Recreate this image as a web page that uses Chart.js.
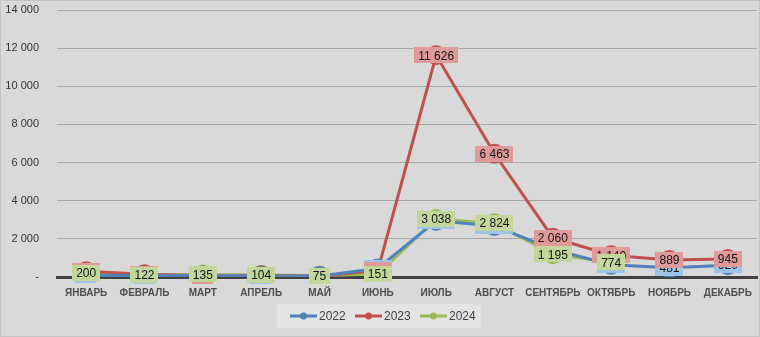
<!DOCTYPE html>
<html>
<head>
<meta charset="utf-8">
<script src="https://cdn.jsdelivr.net/npm/chart.js@4"></script>
<style>
  html, body { margin: 0; padding: 0; background: #d9d9d9; }
  #wrap { position: relative; width: 760px; height: 337px; box-sizing: border-box; border: 1px solid #c4c4c4; }
  canvas { display: block; }
</style>
</head>
<body>
<div id="wrap"><canvas id="chart" width="758" height="335"></canvas></div>
<script>
// months shown on the x axis
const months = ['ЯНВАРЬ','ФЕВРАЛЬ','МАРТ','АПРЕЛЬ','МАЙ','ИЮНЬ','ИЮЛЬ','АВГУСТ','СЕНТЯБРЬ','ОКТЯБРЬ','НОЯБРЬ','ДЕКАБРЬ'];
const years = ['2022','2023','2024'];

// values per year (2024 stops at October)
const v2022 = [90, 60, 80, 50, 50, 450, 2950, 2680, 1450, 640, 481, 620];
const v2023 = [300, 150, 60, 90, 30, 350, 11626, 6463, 2060, 1140, 889, 945];
const v2024 = [200, 122, 135, 104, 75, 151, 3038, 2824, 1195, 774, null, null];

const yTicks = [0, 2000, 4000, 6000, 8000, 10000, 12000, 14000];

const lineColors = ['#4f81bd', '#c0504d', '#9bbb59'];
const labelFills = ['#9dc3e6', '#e19a9a', '#c4d79b'];

const FONT = '"Liberation Sans", Arial, sans-serif';

function fmt(n){
  if (n === 0) return '-';
  return String(Math.round(n)).replace(/\B(?=(\d{3})+(?!\d))/g, ' ');
}

// excel-like centered value boxes, drawn after all lines
const valueLabels = {
  id: 'valueLabels',
  afterDatasetsDraw(chart){
    const ctx = chart.ctx;
    ctx.save();
    ctx.font = '12px ' + FONT;
    ctx.textAlign = 'center';
    ctx.textBaseline = 'middle';
    chart.data.datasets.forEach((ds, i) => {
      const meta = chart.getDatasetMeta(i);
      meta.data.forEach((pt, j) => {
        const v = ds.data[j];
        if (v == null) return;
        const txt = fmt(v);
        const w = ctx.measureText(txt).width + 8;
        const h = 16;
        ctx.fillStyle = labelFills[i];
        ctx.fillRect(Math.round(pt.x - w / 2), Math.round(pt.y - h / 2), Math.round(w), h);
        ctx.fillStyle = '#111';
        ctx.fillText(txt, pt.x, pt.y + 1);
      });
    });
    ctx.restore();
  }
};

// legend in a lighter box under the axis
const boxLegend = {
  id: 'boxLegend',
  afterDraw(chart){
    const ctx = chart.ctx;
    ctx.save();
    ctx.fillStyle = '#e4e4e4';
    ctx.fillRect(276, 303, 204, 24);
    ctx.font = '12px ' + FONT;
    ctx.textBaseline = 'middle';
    const y = 315;
    let x = 289;
    years.forEach((yr, i) => {
      ctx.strokeStyle = lineColors[i];
      ctx.lineWidth = 3;
      ctx.beginPath(); ctx.moveTo(x, y); ctx.lineTo(x + 27, y); ctx.stroke();
      ctx.fillStyle = lineColors[i];
      ctx.beginPath(); ctx.arc(x + 13.5, y, 3.5, 0, Math.PI * 2); ctx.fill();
      ctx.fillStyle = '#404040';
      ctx.fillText(yr, x + 29, y + 1);
      x += 65;
    });
    ctx.restore();
  }
};

const ctx = document.getElementById('chart').getContext('2d');
new Chart(ctx, {
  type: 'line',
  data: {
    labels: months,
    datasets: [v2022, v2023, v2024].map((d, i) => ({
      label: years[i],
      data: d,
      borderColor: lineColors[i],
      backgroundColor: lineColors[i],
      borderWidth: 3,
      pointRadius: 10,
      pointBorderWidth: 0,
      pointBackgroundColor: lineColors[i],
      tension: 0,
      spanGaps: false
    }))
  },
  options: {
    responsive: false,
    animation: false,
    layout: { autoPadding: false, padding: { top: 9, right: 2, left: 0, bottom: 0 } },
    plugins: { legend: { display: false }, tooltip: { enabled: false } },
    scales: {
      x: {
        offset: true,
        grid: { display: false, drawTicks: false },
        border: { color: '#404040', width: 3 },
        ticks: {
          color: '#4d4d4d',
          padding: 10,
          maxRotation: 0,
          autoSkip: false,
          font: { family: FONT, size: 10, weight: 'bold' }
        },
        afterFit(s){ s.height = 59; s.paddingLeft = 0; s.paddingRight = 0; }
      },
      y: {
        min: 0, max: 14000,
        afterBuildTicks(s){ s.ticks = yTicks.map(v => ({ value: v })); },
        grid: { color: '#a6a6a6', lineWidth: 1, drawTicks: false },
        border: { display: false },
        ticks: {
          color: '#333333',
          padding: 18,
          callback: v => fmt(v),
          font: { family: FONT, size: 11 }
        },
        afterFit(s){ s.width = 56; s.paddingTop = 0; s.paddingBottom = 0; }
      }
    }
  },
  plugins: [valueLabels, boxLegend]
});
</script>
</body>
</html>
